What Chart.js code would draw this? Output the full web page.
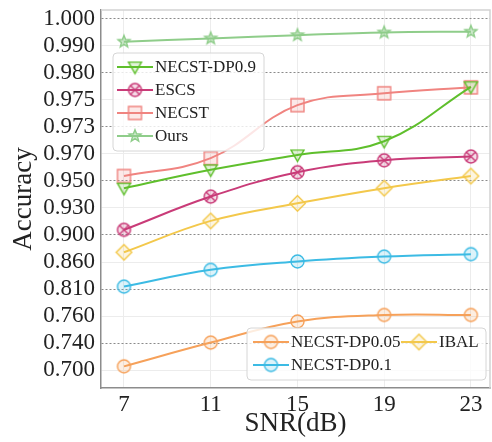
<!DOCTYPE html>
<html><head><meta charset="utf-8">
<script src="https://cdn.jsdelivr.net/npm/chart.js@4/dist/chart.umd.min.js"></script>
<style>html,body{margin:0;padding:0;background:#fff}</style>
</head><body>
<canvas id="c" width="492" height="442"></canvas>
<script>
// ---- data ----
const snr = [7, 11, 15, 19, 23];
const yTickLabels = ['0.700','0.740','0.760','0.810','0.860','0.900','0.930','0.950','0.970','0.973','0.975','0.980','0.990','1.000'];
const yTickValues = yTickLabels.map(Number);
const ours       = [0.9915, 0.9927, 0.9939, 0.9949, 0.9952];
const necstDP09  = [0.9446, 0.9582, 0.9692, 0.9714, 0.9774];
const escs       = [0.9057, 0.9384, 0.9564, 0.9652, 0.9680];
const necst      = [0.9536, 0.9668, 0.9746, 0.9762, 0.9773];
const ibal       = [0.8744, 0.9156, 0.9334, 0.9446, 0.9536];
const necstDP01  = [0.8145, 0.8455, 0.8608, 0.8680, 0.8716];
const necstDP005 = [0.7056, 0.7404, 0.7560, 0.7620, 0.7620];

// piecewise axis (evenly spaced tick labels)
function toAxis(v){
  const t = yTickValues;
  for (let i = 0; i < t.length - 1; i++) {
    if (v <= t[i+1]) return i + (v - t[i]) / (t[i+1] - t[i]);
  }
  const n = t.length - 1;
  return n + (v - t[n]) / (t[n] - t[n-1]);
}

function rgba(hex, a){
  const n = parseInt(hex.slice(1), 16);
  return `rgba(${n>>16},${(n>>8)&255},${n&255},${a})`;
}
function marker(type, color, size){
  const s = size + 6;
  const c = document.createElement('canvas');
  c.width = s; c.height = s;
  const g = c.getContext('2d');
  g.translate(s/2, s/2);
  g.strokeStyle = color; g.lineWidth = 1.4;
  g.fillStyle = rgba(color, 0.18);
  const r = size/2;
  g.beginPath();
  if (type === 'circle') { g.arc(0,0,r,0,Math.PI*2); }
  else if (type === 'square') { g.rect(-r,-r,2*r,2*r); }
  else if (type === 'diamond') { g.moveTo(0,-r*1.2); g.lineTo(r*1.2,0); g.lineTo(0,r*1.2); g.lineTo(-r*1.2,0); g.closePath(); }
  else if (type === 'tridown') { g.moveTo(-r,-r*0.75); g.lineTo(r,-r*0.75); g.lineTo(0,r); g.closePath(); }
  else if (type === 'star') {
    g.fillStyle = rgba(color, 0.45);
    for (let k = 0; k < 10; k++) {
      const rr = k % 2 ? r*0.45 : r*1.05;
      const a = -Math.PI/2 + k*Math.PI/5;
      if (k) g.lineTo(rr*Math.cos(a), rr*Math.sin(a)); else g.moveTo(rr*Math.cos(a), rr*Math.sin(a));
    }
    g.closePath();
  }
  else if (type === 'xcircle') { g.arc(0,0,r,0,Math.PI*2); }
  g.fill(); g.stroke();
  if (type === 'xcircle') {
    g.beginPath();
    const d = r*0.7;
    g.moveTo(-d,-d); g.lineTo(d,d); g.moveTo(d,-d); g.lineTo(-d,d);
    g.stroke();
  }
  return c;
}

const series = [
  {label:'NECST-DP0.9', values:necstDP09, color:'#5fbf2c', mk:'tridown', size:13},
  {label:'ESCS',        values:escs,      color:'#c93b78', mk:'xcircle', size:13},
  {label:'NECST',       values:necst,     color:'#f08480', mk:'square',  size:13},
  {label:'Ours',        values:ours,      color:'#8fcd8a', mk:'star',    size:12},
  {label:'NECST-DP0.05',values:necstDP005,color:'#f6a15a', mk:'circle',  size:13},
  {label:'IBAL',        values:ibal,      color:'#f3c84b', mk:'diamond', size:13},
  {label:'NECST-DP0.1', values:necstDP01, color:'#3cbbe4', mk:'circle',  size:13},
];
series.forEach(s => s.img = marker(s.mk, s.color, s.size));

const FONT = "'Liberation Serif', 'Times New Roman', serif";
const AREA = {left: 101, top: 10, right: 490, bottom: 388};

const layoutPlugin = {
  id: 'fixedArea',
  afterLayout(chart){
    const x = chart.scales.x, y = chart.scales.y, A = AREA;
    x.left = A.left; x.right = A.right; x.width = A.right - A.left;
    x.top = A.bottom; x.bottom = chart.height; x.height = chart.height - A.bottom;
    y.left = 0; y.right = A.left; y.width = A.left;
    y.top = A.top; y.bottom = A.bottom; y.height = A.bottom - A.top;
    x.configure(); y.configure();
    Object.assign(chart.chartArea, A, {width: A.right - A.left, height: A.bottom - A.top});
  }
};

const legendPlugin = {
  id: 'legends',
  beforeDraw(chart){
    const {ctx} = chart;
    ctx.save(); ctx.fillStyle = '#fff'; ctx.fillRect(0,0,chart.width,chart.height); ctx.restore();
  },
  afterDatasetsDraw(chart){
    const {ctx, chartArea:a} = chart;
    ctx.save();
    ctx.strokeStyle = '#d2d2d2'; ctx.lineWidth = 1.5;
    ctx.beginPath(); ctx.moveTo(a.left, a.top); ctx.lineTo(a.right, a.top); ctx.lineTo(a.right, a.bottom); ctx.stroke();

    function box(x0,y0,x1,y1){
      ctx.beginPath();
      if (ctx.roundRect) ctx.roundRect(x0,y0,x1-x0,y1-y0,4); else ctx.rect(x0,y0,x1-x0,y1-y0);
      ctx.fillStyle = 'rgba(255,255,255,0.8)'; ctx.fill();
      ctx.strokeStyle = '#d6d6d6'; ctx.lineWidth = 1; ctx.stroke();
    }
    function item(s, x, y){
      ctx.strokeStyle = s.color; ctx.lineWidth = 2;
      ctx.beginPath(); ctx.moveTo(x, y); ctx.lineTo(x+36, y); ctx.stroke();
      ctx.drawImage(s.img, x+18 - s.img.width/2, y - s.img.height/2);
      ctx.fillStyle = '#222'; ctx.font = '17px ' + FONT; ctx.textBaseline = 'middle'; ctx.textAlign = 'left';
      ctx.fillText(s.label, x+38, y+1);
    }
    box(113, 53, 264, 151);
    item(series[0], 117, 67);
    item(series[1], 117, 90);
    item(series[2], 117, 113);
    item(series[3], 117, 136);

    box(247, 328, 486, 380);
    item(series[4], 253, 342);
    item(series[5], 401, 342);
    item(series[6], 253, 365);
    ctx.restore();
  }
};

const oddTick = ctx => ctx && ctx.tick && (ctx.tick.value % 2 === 1);

new Chart(document.getElementById('c'), {
  type: 'line',
  data: {
    datasets: series.map(s => ({
      label: s.label,
      data: snr.map((x,i) => ({x, y: toAxis(s.values[i])})),
      borderColor: s.color,
      backgroundColor: rgba(s.color, 0.18),
      borderWidth: 2,
      tension: 0.4,
      pointStyle: s.img,
      pointRadius: s.size/2,
      clip: false
    }))
  },
  options: {
    responsive: false,
    animation: false,
    devicePixelRatio: 1,
    layout: {padding: {top: 10, right: 2, left: 0, bottom: 0}},
    plugins: {legend: {display: false}, tooltip: {enabled: false}},
    scales: {
      x: {
        type: 'linear', min: 5.94, max: 23.88,
        afterBuildTicks: sc => { sc.ticks = snr.map(v => ({value: v})); },
        ticks: {autoSkip: false, maxRotation: 0, color: '#222', font: {family: FONT, size: 23}, padding: 3},
        grid: {color: '#ececec', lineWidth: 1, drawTicks: false},
        border: {color: '#8c8c8c', width: 1.5},
        title: {display: true, text: 'SNR(dB)', color: '#222', font: {family: FONT, size: 27}, padding: {top: 0, bottom: 2}}
      },
      y: {
        type: 'linear', min: -0.66, max: 13.32,
        afterBuildTicks: sc => { sc.ticks = yTickValues.map((v,i) => ({value: i})); },
        ticks: {autoSkip: false, color: '#222', font: {family: FONT, size: 23}, padding: 6,
                callback: v => yTickLabels[v]},
        grid: {color: ctx => oddTick(ctx) ? '#8a8a8a' : '#ececec', lineWidth: 1, drawTicks: false},
        border: {color: '#8c8c8c', width: 1.5, dash: ctx => oddTick(ctx) ? [2,2] : []},
        title: {display: true, text: 'Accuracy', color: '#222', font: {family: FONT, size: 27}, padding: {top: 8, bottom: 0}}
      }
    }
  },
  plugins: [layoutPlugin, legendPlugin]
});
</script>
</body></html>
